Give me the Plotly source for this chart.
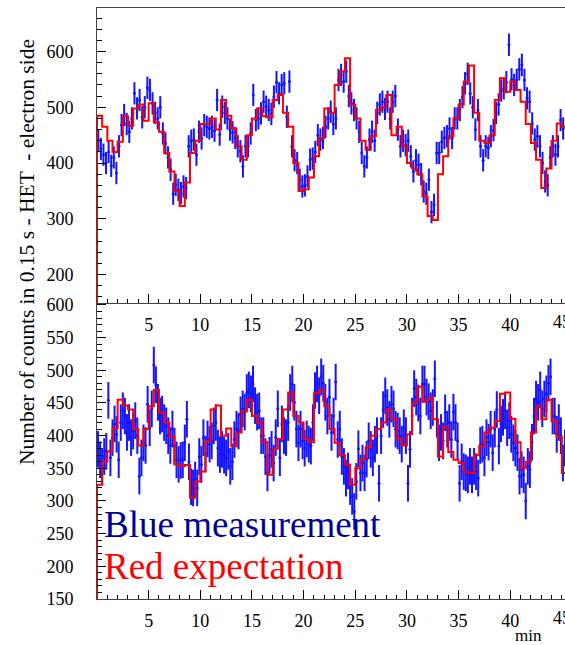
import plotly.graph_objects as go

# ---- time grids (minutes) ----
TOP_STEP = 0.25      # measurement spacing, upper panel
BOT_STEP = 0.2       # measurement spacing, lower panel
RED_BIN = 0.5        # expectation histogram bin width

# ---- upper panel: measured counts (blue) ----
top_meas = [
    440, 425, 415, 400, 420, 395, 410, 382, 430, 468,
    486, 470, 456, 480, 525, 498, 513, 482, 500, 535,
    531, 507, 490, 480, 500, 453, 435, 410, 388, 345,
    361, 352, 346, 358, 355, 430, 440, 442, 415, 456,
    444, 468, 465, 462, 465, 458, 513, 451, 501, 490,
    480, 460, 455, 445, 430, 421, 394, 430, 430, 453,
    522, 477, 480, 489, 510, 501, 495, 488, 519, 545,
    525, 540, 543, 483, 546, 430, 405, 400, 370, 358,
    360, 376, 406, 408, 420, 450, 442, 445, 465, 480,
    492, 470, 480, 549, 558, 546, 564, 520, 507, 495,
    480, 456, 418, 394, 410, 442, 456, 440, 490, 505,
    510, 497, 510, 480, 510, 520, 460, 430, 440, 432,
    440, 412, 385, 405, 397, 380, 349, 345, 370, 312,
    325, 418, 418, 438, 445, 448, 462, 445, 480, 480,
    495, 518, 543, 560, 525, 500, 460, 495, 430, 405,
    430, 427, 448, 459, 490, 505, 530, 534, 545, 612,
    550, 540, 549, 568, 576, 549, 516, 510, 471, 442,
    448, 430, 400, 367, 360, 410, 430, 415, 430, 477,
    462,
]

# ---- upper panel: expectation (red histogram) ----
top_expect = [
    485, 465, 440, 420, 438, 484, 467, 498, 505, 476,
    507, 473, 456, 418, 385, 350, 323, 365, 418, 440,
    470, 470, 480, 460, 513, 485, 462, 430, 406, 450,
    480, 498, 484, 482, 513, 522, 490, 465, 400, 350,
    353, 374, 412, 445, 498, 490, 540, 564, 588, 505,
    480, 440, 424, 448, 495, 500, 522, 450, 465, 430,
    400, 390, 380, 340, 305, 298, 380, 412, 448, 480,
    505, 546, 575, 490, 440, 436, 450, 513, 552, 528,
    546, 531, 510, 470, 436, 406, 355, 390, 440, 471,
    465,
]

# ---- lower panel: measured counts (blue) ----
bot_meas = [
    379, 363, 353, 368, 376, 454, 366, 397, 418, 402,
    363, 420, 438, 430, 405, 420, 397, 407, 423, 400,
    338, 366, 389, 385, 448, 412, 441, 508, 478, 451,
    430, 433, 420, 415, 400, 385, 410, 384, 363, 356,
    362, 363, 389, 425, 360, 322, 320, 332, 320, 368,
    356, 397, 372, 395, 387, 392, 415, 420, 381, 371,
    379, 370, 366, 376, 353, 360, 394, 410, 407, 432,
    441, 436, 466, 470, 464, 479, 446,
    436, 438, 400, 400, 368, 343, 370, 379, 358, 397,
    441, 366, 418, 400, 397, 420, 466, 479, 451, 410,
    389, 410, 392, 381, 395, 387, 384, 420, 469, 479,
    461, 490, 480, 451, 430, 459, 405, 430, 482, 394,
    410, 368, 353, 335, 346, 322, 307, 284, 330, 380,
    343, 358, 343, 364, 392, 379, 366, 387, 400, 327,
    400, 440, 461, 443, 425, 448, 441, 410, 407, 400,
    387, 412, 400, 327, 379,
    430, 472, 459, 450, 430, 479, 479, 459, 452, 438,
    443, 487, 425, 389, 405, 392, 435, 410, 420, 394,
    436, 420, 392, 327, 360, 345, 343, 340, 353, 340,
    353, 345, 335, 385, 387, 366, 397, 390, 410, 374,
    410, 440, 384, 418, 428, 438, 412, 423, 402, 389,
    381, 374, 338, 348, 340, 300, 353, 348, 390, 430,
    456, 451, 470, 441, 456, 464, 480, 490, 430, 430,
    402, 420, 400, 358, 381,
]

# ---- lower panel: expectation (red histogram) ----
bot_expect = [
    325, 360, 376, 411, 455, 446, 440, 410, 385, 410,
    445, 470, 435, 420, 398, 356, 353, 355, 305, 330,
    345, 392, 440, 446, 400, 411, 384, 405, 437, 455,
    430, 420, 390, 340, 380, 395, 440, 466, 430, 420,
    395, 390, 465, 470, 445, 410, 389, 370, 356, 325,
    350, 364, 382, 400, 410, 420, 440, 425, 395, 385,
    402, 450, 475, 452, 458, 425, 368, 413, 375, 363,
    358, 344, 343, 370, 384, 405, 412, 422, 464, 466,
    426, 390, 350, 360, 405, 445, 425, 455, 422, 398,
    343,
]

TOP_ERR = 20
BOT_ERR = 28

x_ticks = [5, 10, 15, 20, 25, 30, 35, 40, 45]
top_yticks = [200, 300, 400, 500, 600]
bot_yticks = [150, 200, 250, 300, 350, 400, 450, 500, 550, 600]

X_RANGE = [0, 45.3]
TOP_RANGE = [149, 678]
BOT_RANGE = [150, 603]

FONT = "Liberation Serif, Times New Roman, DejaVu Serif, serif"
BLUE = "rgb(20,20,255)"
RED = "rgb(255,0,0)"

# plot-area geometry in pixels
L, T, B = 97, 8, 46
W, H = 565, 645
PW, PH = W - L, H - T - B
SPLIT = 296 / PH


def step_xy(vals, base):
    """Histogram outline: rise from the axis at x=0, then one step per bin."""
    xs = [0.0] + [RED_BIN * i for i in range(len(vals))] + [RED_BIN * len(vals)]
    ys = [base] + list(vals) + [vals[-1]]
    return xs, ys


def py(px):
    """Pixel row -> paper y."""
    return (H - B - px) / PH


def pxx(px):
    """Pixel column -> paper x."""
    return (px - L) / PW


fig = go.Figure()

# lower panel
fig.add_trace(go.Scatter(
    x=[BOT_STEP / 2 + BOT_STEP * i for i in range(len(bot_meas))], y=bot_meas,
    mode="markers", marker=dict(color=BLUE, size=3),
    error_y=dict(type="constant", value=BOT_ERR, width=0, thickness=2, color=BLUE),
    xaxis="x", yaxis="y", showlegend=False, hoverinfo="skip"))
bx, by = step_xy(bot_expect, BOT_RANGE[0])
fig.add_trace(go.Scatter(
    x=bx, y=by, mode="lines", line=dict(color=RED, width=2, shape="hv"),
    xaxis="x", yaxis="y", showlegend=False, hoverinfo="skip"))

# upper panel
fig.add_trace(go.Scatter(
    x=[TOP_STEP / 2 + TOP_STEP * i for i in range(len(top_meas))], y=top_meas,
    mode="markers", marker=dict(color=BLUE, size=3),
    error_y=dict(type="constant", value=TOP_ERR, width=0, thickness=2, color=BLUE),
    xaxis="x2", yaxis="y2", showlegend=False, hoverinfo="skip"))
tx, ty = step_xy(top_expect, TOP_RANGE[0])
fig.add_trace(go.Scatter(
    x=tx, y=ty, mode="lines", line=dict(color=RED, width=2, shape="hv"),
    xaxis="x2", yaxis="y2", showlegend=False, hoverinfo="skip"))

tickfont = dict(family=FONT, size=18, color="black")
common_x = dict(
    range=X_RANGE, tickmode="array", tickvals=x_ticks[:-1], ticks="inside",
    ticklen=9, tickwidth=1, tickcolor="black", showline=True, linecolor="#444",
    linewidth=1, showgrid=False, zeroline=False, tickfont=tickfont,
    ticklabelstandoff=5,
    minor=dict(ticks="inside", ticklen=4.5, tickmode="linear", tick0=0, dtick=1,
               tickcolor="black", showgrid=False),
)
common_y = dict(
    tickmode="array", ticks="inside", ticklen=9, tickwidth=1, tickcolor="black",
    showline=True, linecolor="#444", linewidth=1, showgrid=False, zeroline=False,
    tickfont=tickfont, ticklabelstandoff=19,
)

annotations = [
    dict(text="Number of counts in 0.15 s - HET  - electron side",
         xref="paper", yref="paper", x=pxx(27), y=py(252),
         xanchor="center", yanchor="middle", textangle=-90, showarrow=False,
         font=dict(family=FONT, size=21.5, color="black")),
    dict(text="Blue measurement", xref="paper", yref="paper",
         x=pxx(102), y=py(524), xanchor="left", yanchor="middle",
         showarrow=False, font=dict(family=FONT, size=37, color="#000099")),
    dict(text="Red expectation", xref="paper", yref="paper",
         x=pxx(102), y=py(566), xanchor="left", yanchor="middle",
         showarrow=False, font=dict(family=FONT, size=37, color="#ff0000")),
    dict(text="min", xref="paper", yref="paper",
         x=pxx(528), y=py(635), xanchor="center", yanchor="middle",
         showarrow=False, borderpad=0, font=dict(family=FONT, size=17, color="black")),
]
# last major tick label sits on the right edge of the page, half cut off
for xref, yref in (("x", "y"), ("x2", "y2")):
    annotations.append(dict(
        text=str(x_ticks[-1]), xref=xref, yref=f"{yref} domain", x=x_ticks[-1], y=0,
        xanchor="center", yanchor="top", yshift=-7, showarrow=False,
        font=tickfont))

fig.update_layout(
    width=W, height=H,
    margin=dict(l=L, r=0, t=T, b=B),
    paper_bgcolor="white", plot_bgcolor="white",
    xaxis=dict(anchor="y", **common_x),
    xaxis2=dict(anchor="y2", mirror=True, **common_x),
    yaxis=dict(domain=[0, SPLIT], range=BOT_RANGE, tickvals=bot_yticks,
               minor=dict(ticks="inside", ticklen=4.5, tickmode="linear", tick0=150,
                          dtick=10, tickcolor="black", showgrid=False),
               anchor="x", **common_y),
    yaxis2=dict(domain=[SPLIT, 1], range=TOP_RANGE, tickvals=top_yticks,
                minor=dict(ticks="inside", ticklen=4.5, tickmode="linear", tick0=200,
                           dtick=20, tickcolor="black", showgrid=False),
                anchor="x2", **common_y),
    annotations=annotations,
)

fig.write_html("out.html")
